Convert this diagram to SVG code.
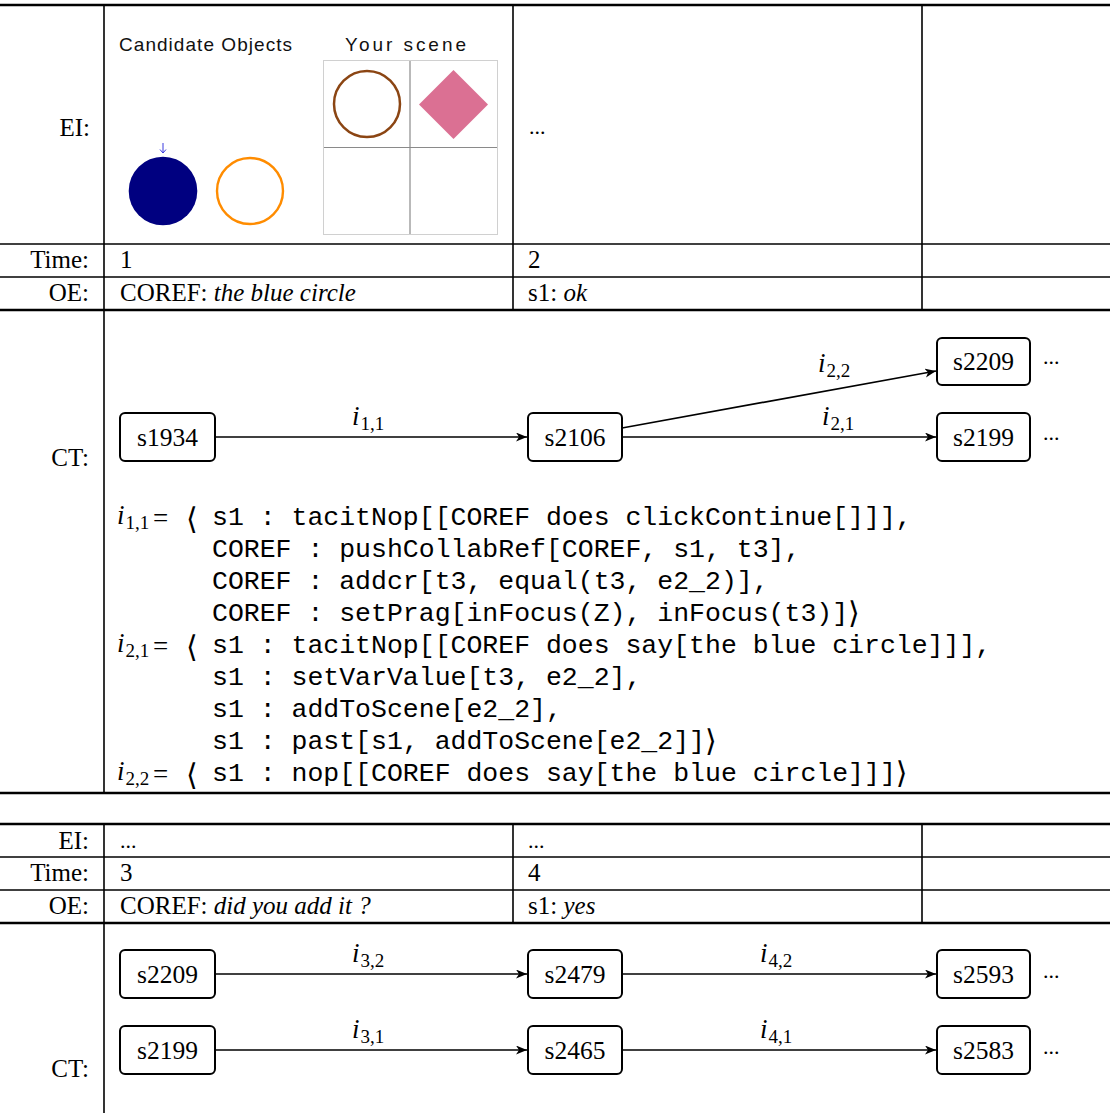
<svg xmlns="http://www.w3.org/2000/svg" width="1110" height="1113" viewBox="0 0 1110 1113">
<defs>
<marker id="arr" markerWidth="12" markerHeight="10" refX="11" refY="4.5" orient="auto" markerUnits="userSpaceOnUse">
<path d="M0,0 L11,4.5 L0,9 L3,4.5 z" fill="#000"/>
</marker>
<style>
.grid{stroke:#000;stroke-width:1.6;fill:none}
.thick{stroke-width:2.6}
.lbl{font-family:"Liberation Serif",serif;font-size:25px;fill:#000}
.r{text-anchor:end}
.it{font-style:italic}
.node rect{fill:#fff;stroke:#000;stroke-width:2}
.node text{font-family:"Liberation Serif",serif;font-size:25.5px;text-anchor:middle}
.edge{stroke:#000;stroke-width:1.7;fill:none;marker-end:url(#arr)}
.math{font-family:"Liberation Serif",serif;font-size:27px;font-style:italic}
.sub{font-family:"Liberation Serif",serif;font-size:19px;font-style:normal}
.eq{font-family:"Liberation Serif",serif;font-size:27px;font-style:normal}
.ang{font-family:"DejaVu Serif",serif;font-size:30px;font-style:normal}
.code{font-family:"Liberation Mono",monospace;font-size:26.5px}
.sans{font-family:"Liberation Sans",sans-serif;font-size:19px;fill:#111}
.dots{font-family:"Liberation Serif",serif;font-size:22px}
</style>
</defs>
<rect width="1110" height="1113" fill="#fff"/>

<!-- table 1 grid -->
<g id="grid1">
<line class="grid thick" x1="0" y1="5" x2="1110" y2="5"/>
<line class="grid" x1="0" y1="244" x2="1110" y2="244"/>
<line class="grid" x1="0" y1="277" x2="1110" y2="277"/>
<line class="grid thick" x1="0" y1="310" x2="1110" y2="310"/>
<line class="grid thick" x1="0" y1="793" x2="1110" y2="793"/>
<line class="grid" x1="104" y1="5" x2="104" y2="793"/>
<line class="grid" x1="513" y1="5" x2="513" y2="310"/>
<line class="grid" x1="922" y1="5" x2="922" y2="310" stroke-width="2"/>
</g>

<!-- table 2 grid -->
<g id="grid2">
<line class="grid thick" x1="0" y1="824" x2="1110" y2="824"/>
<line class="grid" x1="0" y1="857" x2="1110" y2="857"/>
<line class="grid" x1="0" y1="890" x2="1110" y2="890"/>
<line class="grid thick" x1="0" y1="923" x2="1110" y2="923"/>
<line class="grid" x1="104" y1="824" x2="104" y2="1113"/>
<line class="grid" x1="513" y1="824" x2="513" y2="923"/>
<line class="grid" x1="922" y1="824" x2="922" y2="923" stroke-width="2"/>
</g>

<!-- row labels -->
<g id="rowlabels">
<text class="lbl r" x="90" y="136">EI:</text>
<text class="lbl r" x="89" y="268">Time:</text>
<text class="lbl r" x="89" y="301">OE:</text>
<text class="lbl r" x="89" y="466">CT:</text>
<text class="lbl r" x="89" y="849">EI:</text>
<text class="lbl r" x="89" y="881">Time:</text>
<text class="lbl r" x="89" y="914">OE:</text>
<text class="lbl r" x="89" y="1077">CT:</text>
</g>

<!-- cell contents -->
<g id="cells">
<text class="dots" x="529" y="134">...</text>
<text class="lbl" x="120" y="268">1</text>
<text class="lbl" x="528" y="268">2</text>
<text class="lbl" x="120" y="301">COREF: <tspan class="it">the blue circle</tspan></text>
<text class="lbl" x="528" y="301">s1: <tspan class="it">ok</tspan></text>
<text class="dots" x="120" y="848">...</text>
<text class="dots" x="528" y="848">...</text>
<text class="lbl" x="120" y="881">3</text>
<text class="lbl" x="528" y="881">4</text>
<text class="lbl" x="120" y="914">COREF: <tspan class="it">did you add it ?</tspan></text>
<text class="lbl" x="528" y="914">s1: <tspan class="it">yes</tspan></text>
</g>

<!-- EI picture -->
<g id="ei-picture">
<text class="sans" x="119" y="51" textLength="173" lengthAdjust="spacing">Candidate Objects</text>
<text class="sans" x="345" y="51" textLength="121" lengthAdjust="spacing">Your scene</text>
<path d="M163,143 L163,153 M160,149.5 L163,153 L166,149.5" stroke="#3a3adf" stroke-width="1" fill="none"/>
<circle cx="163" cy="191" r="34.3" fill="#000080"/>
<circle cx="250" cy="191" r="33" fill="none" stroke="#ff8c00" stroke-width="2.4"/>
<rect x="323.5" y="60.5" width="174" height="174" fill="#fff" stroke="#d0d0d0" stroke-width="1"/>
<line x1="410" y1="61" x2="410" y2="234" stroke="#8a8a8a" stroke-width="1.2"/>
<line x1="324" y1="147.5" x2="497" y2="147.5" stroke="#8a8a8a" stroke-width="1.2"/>
<circle cx="367" cy="104" r="33" fill="none" stroke="#8b4513" stroke-width="2.5"/>
<polygon points="453.5,70 488,104.5 453.5,139 419,104.5" fill="#db7093"/>
</g>

<!-- connectors -->
<g id="connectors">
<line class="edge" x1="215" y1="437" x2="527" y2="437"/>
<line class="edge" x1="622" y1="437" x2="936" y2="437"/>
<line class="edge" x1="622" y1="428" x2="936" y2="371"/>
<line class="edge" x1="215" y1="974" x2="527" y2="974"/>
<line class="edge" x1="622" y1="974" x2="936" y2="974"/>
<line class="edge" x1="215" y1="1050" x2="527" y2="1050"/>
<line class="edge" x1="622" y1="1050" x2="936" y2="1050"/>
<text class="math" x="352" y="425">i<tspan class="sub" dx="1" dy="5">1,1</tspan></text>
<text class="math" x="822" y="425">i<tspan class="sub" dx="1" dy="5">2,1</tspan></text>
<text class="math" x="818" y="372">i<tspan class="sub" dx="1" dy="5">2,2</tspan></text>
<text class="math" x="352" y="962">i<tspan class="sub" dx="1" dy="5">3,2</tspan></text>
<text class="math" x="760" y="962">i<tspan class="sub" dx="1" dy="5">4,2</tspan></text>
<text class="math" x="352" y="1038">i<tspan class="sub" dx="1" dy="5">3,1</tspan></text>
<text class="math" x="760" y="1038">i<tspan class="sub" dx="1" dy="5">4,1</tspan></text>
</g>

<!-- nodes -->
<g id="n-s1934" class="node"><rect x="120" y="413" width="95" height="48" rx="5"/><text x="167.5" y="446">s1934</text></g>
<g id="n-s2106" class="node"><rect x="528" y="413" width="94" height="48" rx="5"/><text x="575" y="446">s2106</text></g>
<g id="n-s2209a" class="node"><rect x="937" y="338" width="93" height="47" rx="5"/><text x="983.5" y="370">s2209</text></g>
<g id="n-s2199a" class="node"><rect x="937" y="413" width="93" height="48" rx="5"/><text x="983.5" y="446">s2199</text></g>
<g id="n-s2209b" class="node"><rect x="120" y="950" width="95" height="48" rx="5"/><text x="167.5" y="983">s2209</text></g>
<g id="n-s2479" class="node"><rect x="528" y="950" width="94" height="48" rx="5"/><text x="575" y="983">s2479</text></g>
<g id="n-s2593" class="node"><rect x="937" y="950" width="93" height="48" rx="5"/><text x="983.5" y="983">s2593</text></g>
<g id="n-s2199b" class="node"><rect x="120" y="1026" width="95" height="48" rx="5"/><text x="167.5" y="1059">s2199</text></g>
<g id="n-s2465" class="node"><rect x="528" y="1026" width="94" height="48" rx="5"/><text x="575" y="1059">s2465</text></g>
<g id="n-s2583" class="node"><rect x="937" y="1026" width="93" height="48" rx="5"/><text x="983.5" y="1059">s2583</text></g>

<g id="ellipses">
<text class="dots" x="1043" y="364">...</text>
<text class="dots" x="1043" y="440">...</text>
<text class="dots" x="1043" y="978">...</text>
<text class="dots" x="1043" y="1054">...</text>
</g>

<!-- code block -->
<g id="code">
<text class="math" x="117" y="524">i<tspan class="sub" dx="1" dy="5">1,1</tspan></text>
<text class="eq" x="153" y="527">=</text>
<text class="ang" x="186" y="529">⟨</text>
<text class="math" x="117" y="652">i<tspan class="sub" dx="1" dy="5">2,1</tspan></text>
<text class="eq" x="153" y="655">=</text>
<text class="ang" x="186" y="657">⟨</text>
<text class="math" x="117" y="780">i<tspan class="sub" dx="1" dy="5">2,2</tspan></text>
<text class="eq" x="153" y="783">=</text>
<text class="ang" x="186" y="785">⟨</text>
<text class="code" x="212" y="525">s1 : tacitNop[[COREF does clickContinue[]]],</text>
<text class="code" x="212" y="557">COREF : pushCollabRef[COREF, s1, t3],</text>
<text class="code" x="212" y="589">COREF : addcr[t3, equal(t3, e2_2)],</text>
<text class="code" x="212" y="621">COREF : setPrag[inFocus(Z), inFocus(t3)]<tspan class="ang" dy="2">⟩</tspan></text>
<text class="code" x="212" y="653">s1 : tacitNop[[COREF does say[the blue circle]]],</text>
<text class="code" x="212" y="685">s1 : setVarValue[t3, e2_2],</text>
<text class="code" x="212" y="717">s1 : addToScene[e2_2],</text>
<text class="code" x="212" y="749">s1 : past[s1, addToScene[e2_2]]<tspan class="ang" dy="2">⟩</tspan></text>
<text class="code" x="212" y="781">s1 : nop[[COREF does say[the blue circle]]]<tspan class="ang" dy="2">⟩</tspan></text>
</g>
</svg>
